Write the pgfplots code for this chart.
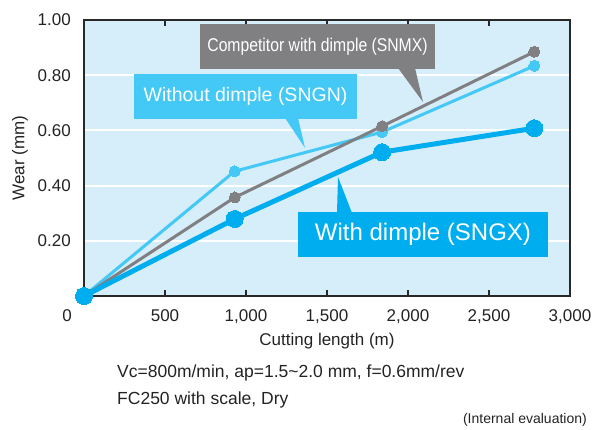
\documentclass[border=0pt]{standalone}
\usepackage{fontspec}
\setmainfont{Liberation Sans}
\newfontfamily\condfont[FakeStretch=0.85]{Liberation Sans}
\usepackage{pgfplots}
\pgfplotsset{compat=1.18}
\definecolor{bgblue}{RGB}{214,237,250}
\definecolor{sngx}{RGB}{0,174,239}
\definecolor{sngn}{RGB}{68,200,245}
\definecolor{snmx}{RGB}{128,128,130}
\definecolor{framec}{RGB}{40,40,40}
\definecolor{txt}{RGB}{35,35,35}

\begin{document}
\begin{tikzpicture}[x=1pt,y=1pt]
\path[use as bounding box] (0pt,0pt) rectangle (602pt,429pt);
\begin{axis}[
  at={(84pt,133pt)}, anchor=south west,
  scale only axis, width=486pt, height=276pt,
  xmin=0, xmax=3000, ymin=0, ymax=1,
  clip=false,
  axis background/.style={fill=bgblue},
  axis line style={draw=framec, line width=1.5pt},
  xtick={500,1000,1500,2000,2500,3000},
  ytick={0.2,0.4,0.6,0.8,1.0},
  extra x ticks={0},
  extra x tick style={major tick length=0pt, xticklabel style={xshift=-17pt}},
  tick align=inside,
  major tick length=6pt,
  xtick style={draw=framec, line width=1.5pt},
  ytick style={draw=none},
  ymajorgrids,
  major grid style={draw=white, line width=2pt},
  /pgf/number format/assume math mode=true,
  xticklabel style={/pgf/number format/1000 sep={,}},
  yticklabel style={/pgf/number format/fixed, /pgf/number format/fixed zerofill, /pgf/number format/precision=2},
  every tick label/.append style={font=\fontsize{17}{20}\selectfont, text=txt, inner sep=0pt},
  xticklabel style={yshift=-13pt},
  yticklabel style={xshift=-13pt},
  xlabel={Cutting length (m)},
  ylabel={Wear (mm)},
  xlabel style={at={(axis description cs:0.5,-0.163)}, anchor=center, font=\fontsize{17}{20}\selectfont, text=txt},
  ylabel style={at={(axis description cs:-0.1317,0.5)}, anchor=center, font=\fontsize{17}{20}\selectfont, text=txt},
]
\addplot[sngn, line width=3pt, mark=*, mark size=5.5pt, mark options={fill=sngn, draw=sngn, line width=0pt}]
  coordinates {(0,0) (930,0.452) (1840,0.594) (2780,0.834)};
\addplot[snmx, line width=3pt, mark=*, mark size=5.5pt, mark options={fill=snmx, draw=snmx, line width=0pt}]
  coordinates {(0,0) (930,0.357) (1840,0.615) (2780,0.885)};
\addplot[sngx, line width=5pt, mark=*, mark size=8.5pt, mark options={fill=sngx, draw=sngx, line width=0pt}]
  coordinates {(0,0) (930,0.279) (1840,0.521) (2780,0.608)};
\end{axis}
% callouts
\fill[snmx] (200pt,405pt) rectangle (435pt,360pt);
\fill[snmx] (398pt,361pt) -- (415pt,361pt) -- (423pt,327pt) -- cycle;
\node[text=white, font=\condfont\fontsize{18.5}{20}\selectfont] at (317.5pt,382.5pt) {Competitor with dimple (SNMX)};
\fill[sngn] (134pt,355pt) rectangle (357pt,310pt);
\fill[sngn] (285pt,311pt) -- (298pt,311pt) -- (305pt,281pt) -- cycle;
\node[text=white, font=\fontsize{19.5}{22}\selectfont] at (245.5pt,332.5pt) {Without dimple (SNGN)};
\fill[sngx] (298pt,217pt) rectangle (548pt,172pt);
\fill[sngx] (337pt,216pt) -- (352pt,216pt) -- (338pt,252pt) -- cycle;
\node[text=white, font=\fontsize{24}{26}\selectfont] at (423pt,194.5pt) {With dimple (SNGX)};
% notes
\node[anchor=west, text=txt, inner sep=0pt, font=\fontsize{17.5}{20}\selectfont] at (117pt,56pt) {Vc=800m/min, ap=1.5\textasciitilde 2.0 mm, f=0.6mm/rev};
\node[anchor=west, text=txt, inner sep=0pt, font=\fontsize{17.5}{20}\selectfont] at (117pt,29pt) {FC250 with scale, Dry};
\node[anchor=east, text=txt, inner sep=0pt, font=\fontsize{14}{16}\selectfont] at (587pt,9pt) {(Internal evaluation)};
\end{tikzpicture}
\end{document}
